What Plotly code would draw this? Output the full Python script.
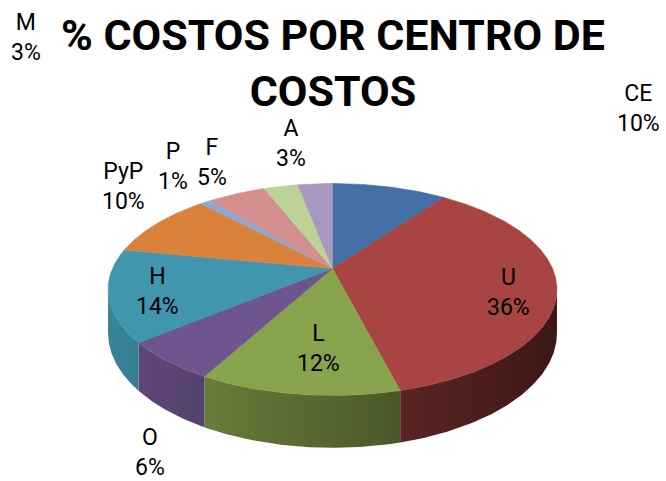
import numpy as np
import plotly.graph_objects as go

# ---- data ----
labels = ["CE", "U", "L", "O", "H", "PyP", "P", "F", "A", "M"]
values = [10, 36, 12, 6, 14, 10, 1, 5, 3, 3]
colors = ["#4470A7", "#A84442", "#87A34C", "#6F558F", "#3F96AE",
          "#DA823C", "#8EA8D2", "#D28F8D", "#BCD296", "#A898BF"]
title_text = "% COSTOS POR CENTRO DE<br>COSTOS"

# ---- layout / geometry (pixel space) ----
W, H = 666, 481
CX, CY = 332.5, 268.5
A, B, K = 220.0, 101.8, 0.198
DEPTH = 42.0
label_pos = {"CE": (638, 108), "U": (508, 292), "L": (318, 348), "O": (150, 452),
             "H": (157, 291), "PyP": (123, 186), "P": (173, 166), "F": (212, 162),
             "A": (291, 143), "M": (26, 37)}


def proj(theta_deg, drop=0.0):
    th = np.radians(theta_deg)
    x = np.sin(th)
    y = -np.cos(th)
    w = 1 - K * y
    return CX + A * x / w, CY + B * y / w + drop / w


def scale(hexc, f):
    h = hexc.lstrip("#")
    r, g, b = (int(h[i:i + 2], 16) for i in (0, 2, 4))
    return "rgb(%d,%d,%d)" % (r * f, g * f, b * f)


total = float(sum(values))
bounds = np.concatenate([[0], np.cumsum(values) / total * 360.0])
sil_a = np.degrees(np.arccos(-K))          # right silhouette
sil_b = 360.0 - sil_a                       # left silhouette

fig = go.Figure()

# side walls
for i, lab in enumerate(labels):
    t0, t1 = max(bounds[i], sil_a), min(bounds[i + 1], sil_b)
    if t1 <= t0:
        continue
    ts = np.linspace(t0, t1, max(3, int((t1 - t0) * 2)))
    xt, yt = proj(ts)
    xb, yb = proj(ts[::-1], DEPTH)
    xs = np.concatenate([xt, xb, xt[:1]])
    ys = np.concatenate([yt, yb, yt[:1]])
    fig.add_trace(go.Scatter(
        x=xs, y=ys, mode="lines", fill="toself", line=dict(width=0),
        fillgradient=dict(type="horizontal", start=CX - 225, stop=CX + 225,
                          colorscale=[[0, scale(colors[i], 0.88)],
                                      [0.55, scale(colors[i], 0.6)],
                                      [1, scale(colors[i], 0.36)]]),
        hoverinfo="skip", showlegend=False))

# top faces
for i, lab in enumerate(labels):
    t0, t1 = bounds[i], bounds[i + 1]
    ts = np.linspace(t0, t1, max(3, int((t1 - t0) * 2)))
    xt, yt = proj(ts)
    xs = np.concatenate([[CX], xt, [CX]])
    ys = np.concatenate([[CY], yt, [CY]])
    fig.add_trace(go.Scatter(
        x=xs, y=ys, mode="lines", fill="toself",
        line=dict(width=0.6, color=colors[i]), fillcolor=colors[i],
        name=lab, hoverinfo="name", showlegend=False))

# data labels
for lab, v in zip(labels, values):
    px, py = label_pos[lab]
    fig.add_annotation(x=px, y=py, xref="x", yref="y", showarrow=False,
                       text="%s<br>%d%%" % (lab, round(v / total * 100)),
                       font=dict(family="Roboto", size=23, color="#000000"),
                       xanchor="center", yanchor="middle")

# title
fig.add_annotation(x=CX, y=63, xref="x", yref="y", showarrow=False,
                   text="<b>" + title_text + "</b>",
                   font=dict(family="Roboto", size=43, color="#000000"),
                   xanchor="center", yanchor="middle")

fig.update_layout(
    width=W, height=H, margin=dict(l=0, r=0, t=0, b=0),
    paper_bgcolor="white", plot_bgcolor="white",
    xaxis=dict(range=[0, W], visible=False, fixedrange=True),
    yaxis=dict(range=[H, 0], visible=False, fixedrange=True),
)

fig.write_html("out.html", config={"displayModeBar": False},
               post_script="document.body.style.margin='0';document.body.style.overflow='hidden';")
